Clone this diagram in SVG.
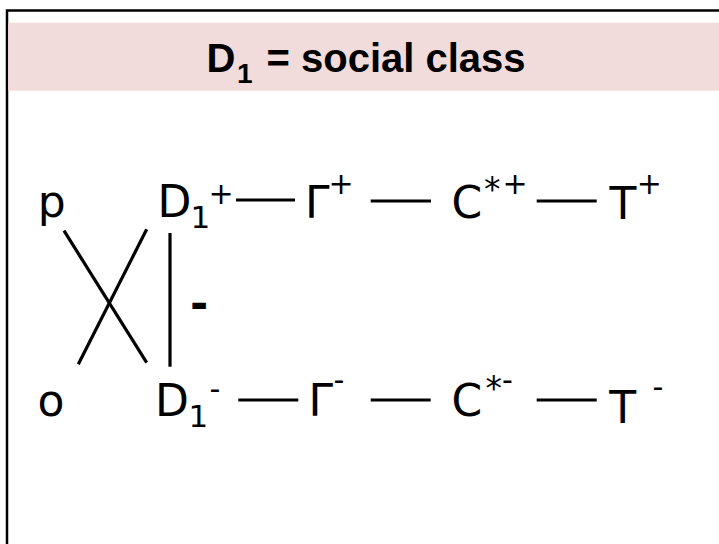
<svg xmlns="http://www.w3.org/2000/svg" width="719" height="544" viewBox="0 0 719 544">
<style>
.t{font-family:"DejaVu Sans",Verdana,sans-serif;font-size:44px;fill:#000}
.s{font-size:30px}
.a{font-size:33px}
.sub{font-size:31px}
.ln{stroke:#000;stroke-width:3.2;fill:none}
.title{font-family:"Liberation Sans",Arial,sans-serif;font-weight:bold;font-size:40px;fill:#000}
</style>
<rect x="0" y="0" width="719" height="544" fill="#fff"/>
<rect x="7" y="10.5" width="730" height="560" fill="#fff" stroke="#000" stroke-width="2.5"/>
<rect x="8.2" y="22.7" width="712" height="68" fill="#f2dcdb"/>
<g id="title">
<text class="title" y="71.7"><tspan x="206.4">D</tspan><tspan x="237" y="83" font-size="28">1</tspan><tspan x="255.4" y="71.7" xml:space="preserve"> = social class</tspan></text>
</g>
<g id="p"><text class="t" x="37.7" y="216.5">p</text></g>
<g id="o"><text class="t" x="37.6" y="416">o</text></g>
<g id="D1plus"><text class="t" x="157.4" y="216.5">D<tspan class="sub" x="190.6" y="228">1</tspan><tspan class="s" x="208.4" y="204.3">+</tspan></text></g>
<g id="Gplus"><text class="t" x="305" y="217.5">Γ<tspan class="s" x="328.5" y="194.3">+</tspan></text></g>
<g id="Cplus"><text class="t" x="451.5" y="217.5">C<tspan class="a" x="484" y="201">*</tspan><tspan class="s" x="502.5" y="194.3">+</tspan></text></g>
<g id="Tplus"><text class="t" x="609.5" y="218.5">T<tspan class="s" x="636.8" y="194.3">+</tspan></text></g>
<g id="D1minus"><text class="t" x="155" y="416">D<tspan class="sub" x="188.6" y="426.7">1</tspan><tspan class="s" x="209.6" y="399.4">-</tspan></text></g>
<g id="Gminus"><text class="t" x="308.4" y="416">Γ<tspan class="s" x="333.6" y="390.4">-</tspan></text></g>
<g id="Cminus"><text class="t" x="451.5" y="416">C<tspan class="a" x="485.5" y="399.5">*</tspan><tspan class="s" x="501.9" y="390.4">-</tspan></text></g>
<g id="Tminus"><text class="t" x="609.3" y="423">T<tspan class="s" x="652.6" y="397">-</tspan></text></g>
<g id="minus"><text class="t" font-weight="bold" x="190" y="319.4">-</text></g>
<g id="connectors">
<line class="ln" x1="64" y1="230.7" x2="146.7" y2="362.7"/>
<line class="ln" x1="146.7" y1="229.3" x2="78.3" y2="364.3"/>
<line class="ln" x1="170" y1="233" x2="170" y2="366.7"/>
<line class="ln" x1="236" y1="200" x2="295" y2="200"/>
<line class="ln" x1="370.7" y1="201" x2="431" y2="201"/>
<line class="ln" x1="536.7" y1="201" x2="596.7" y2="201"/>
<line class="ln" x1="238.3" y1="400" x2="298.3" y2="400"/>
<line class="ln" x1="370.7" y1="400" x2="430.7" y2="400"/>
<line class="ln" x1="536.7" y1="400" x2="596.7" y2="400"/>
</g>
</svg>
